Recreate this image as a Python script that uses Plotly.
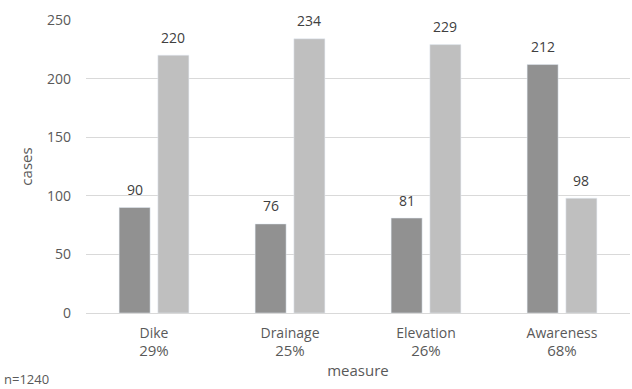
import plotly.graph_objects as go

categories = ["Dike", "Drainage", "Elevation", "Awareness"]
percentages = ["29%", "25%", "26%", "68%"]
series_a = [90, 76, 81, 212]
series_b = [220, 234, 229, 98]
y_ticks = [0, 50, 100, 150, 200, 250]

font_family = "Open Sans, Noto Sans, sans-serif"
txt_color = "#595959"

ticktext = [f"{c}<br><span style='font-size:15px'>{p}</span>" for c, p in zip(categories, percentages)]

fig = go.Figure()
fig.add_trace(go.Bar(x=categories, y=series_a, marker_color="#919191"))
fig.add_trace(go.Bar(x=categories, y=series_b, marker_color="#bfbfbf"))

slot_shift = 136 * (1 - 0.43) / 4  # half slot width in px
annotations = []
for vals, sh in ((series_a, -slot_shift), (series_b, slot_shift)):
    for c, v in zip(categories, vals):
        annotations.append(dict(x=c, y=v, text=str(v), showarrow=False,
                                xshift=sh, yshift=18, yanchor="middle",
                                font=dict(size=14, color="#404040")))
annotations.append(dict(text="n=1240", xref="paper", yref="paper",
                        x=-84/544, y=-66/293, xanchor="left", yanchor="middle",
                        showarrow=False, font=dict(size=13, color=txt_color)))

fig.update_layout(
    width=632, height=389,
    margin=dict(l=86, r=2, t=20, b=76),
    plot_bgcolor="white", paper_bgcolor="white",
    barmode="group", bargap=0.43, bargroupgap=0.2,
    showlegend=False,
    font=dict(family=font_family, size=14, color=txt_color),
    xaxis=dict(tickmode="array", tickvals=categories, ticktext=ticktext,
               showline=True, linecolor="#d9d9d9", ticks="", ticklabelstandoff=7,
               title=dict(text="measure", standoff=6, font=dict(size=15))),
    yaxis=dict(range=[0, 250], tickvals=y_ticks, showgrid=True, gridcolor="#d9d9d9",
               zeroline=False, ticks="", ticklabelstandoff=14,
               title=dict(text="cases", standoff=10, font=dict(size=15))),
    annotations=annotations,
)

fig.write_html("out.html")
